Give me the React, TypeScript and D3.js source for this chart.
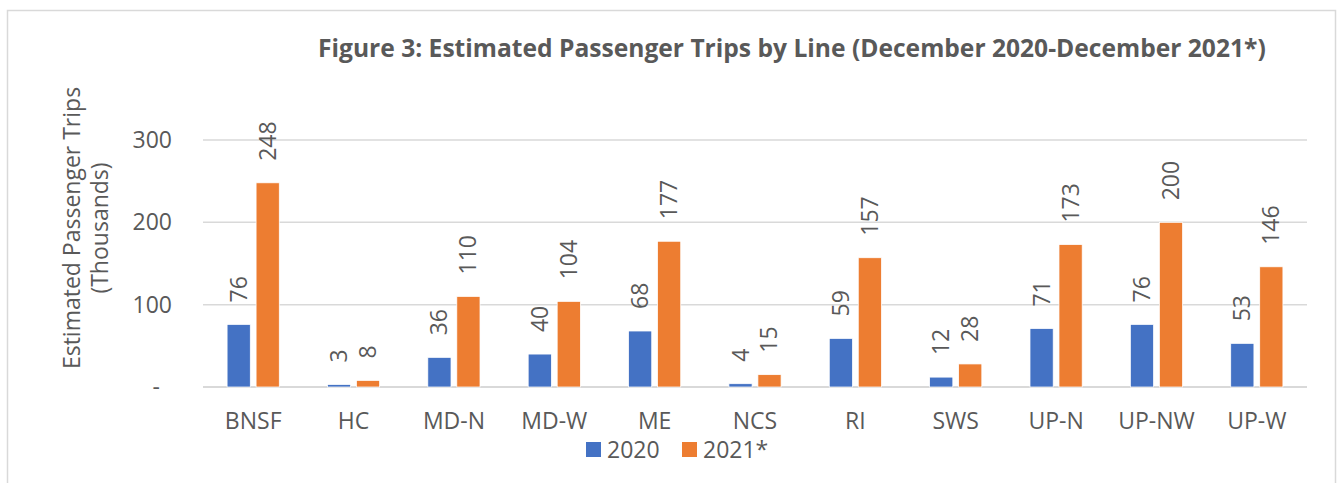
import React from 'react';
import * as d3 from 'd3';

const lines = ['BNSF', 'HC', 'MD-N', 'MD-W', 'ME', 'NCS', 'RI', 'SWS', 'UP-N', 'UP-NW', 'UP-W'];
const trips2020 = [76, 3, 36, 40, 68, 4, 59, 12, 71, 76, 53];
const trips2021 = [248, 8, 110, 104, 177, 15, 157, 28, 173, 200, 146];
const seriesNames = ['2020', '2021*'];
const seriesColors = ['#4472C4', '#ED7D31'];
const yTicks = [0, 100, 200, 300];

const W = 1343;
const H = 483;
const FONT = '"Open Sans", sans-serif';
const TEXT = '#595959';

export default function App() {
    const plot = { left: 203, right: 1307, top: 140, bottom: 387 };

    const x = d3.scaleBand<string>()
        .domain(lines)
        .range([plot.left, plot.right])
        .paddingInner(0.48)
        .paddingOuter(0.24);
    const xInner = d3.scaleBand<string>()
        .domain(seriesNames)
        .range([0, x.bandwidth()])
        .paddingInner(0.2);
    const y = d3.scaleLinear().domain([0, 300]).range([plot.bottom, plot.top]);

    const series = [trips2020, trips2021];

    return (
        <svg width={W} height={H} style={{ position: 'absolute', left: 0, top: 0, background: '#fff' }}
            fontFamily={FONT}>
            <rect x={7.5} y={10.5} width={1328} height={490} fill="#fff" stroke="#d9d9d9" strokeWidth={1.5} />

            <text x={318} y={57} fontSize={24.6} fontWeight="bold" fill={TEXT}>
                Figure 3: Estimated Passenger Trips by Line (December 2020-December 2021*)
            </text>

            {/* gridlines */}
            {yTicks.map(t => (
                <line key={t} x1={plot.left} x2={plot.right} y1={y(t)} y2={y(t)}
                    stroke="#d9d9d9" strokeWidth={t === 0 ? 2 : 1.5} />
            ))}
            {yTicks.map(t => (
                <text key={'l' + t} x={t === 0 ? 160 : 172} y={y(t)} dy="0.35em" textAnchor="end"
                    fontSize={23} fill={TEXT}>
                    {t === 0 ? '-' : d3.format('d')(t)}
                </text>
            ))}

            {/* axis title */}
            <g transform={`translate(80, 228) rotate(-90)`}>
                <text x={0} y={0} textAnchor="middle" fontSize={23} fill={TEXT}>Estimated Passenger Trips</text>
                <text x={0} y={28} textAnchor="middle" fontSize={23} fill={TEXT}>(Thousands)</text>
            </g>

            {/* bars */}
            {lines.map((c, i) => (
                <g key={c} transform={`translate(${x(c)},0)`}>
                    {series.map((vals, s) => {
                        const bx = xInner(seriesNames[s])!;
                        const v = vals[i];
                        const cx = bx + xInner.bandwidth() / 2;
                        return (
                            <g key={s}>
                                <rect x={bx} y={y(v)} width={xInner.bandwidth()} height={y(0) - y(v)}
                                    fill={seriesColors[s]} stroke="#fff" strokeWidth={0.75} />
                                <text transform={`translate(${cx + 8},${y(v) - 22}) rotate(-90)`}
                                    fontSize={23} fill={TEXT}>{v}</text>
                            </g>
                        );
                    })}
                    <text x={x.bandwidth() / 2} y={429} textAnchor="middle" fontSize={23} fill={TEXT}>{c}</text>
                </g>
            ))}

            {/* legend */}
            <rect x={586} y={442} width={15} height={15} fill={seriesColors[0]} />
            <text x={607} y={458} fontSize={23} fill={TEXT}>{seriesNames[0]}</text>
            <rect x={682} y={442} width={15} height={15} fill={seriesColors[1]} />
            <text x={703} y={458} fontSize={23} fill={TEXT}>{seriesNames[1]}</text>
        </svg>
    );
}
